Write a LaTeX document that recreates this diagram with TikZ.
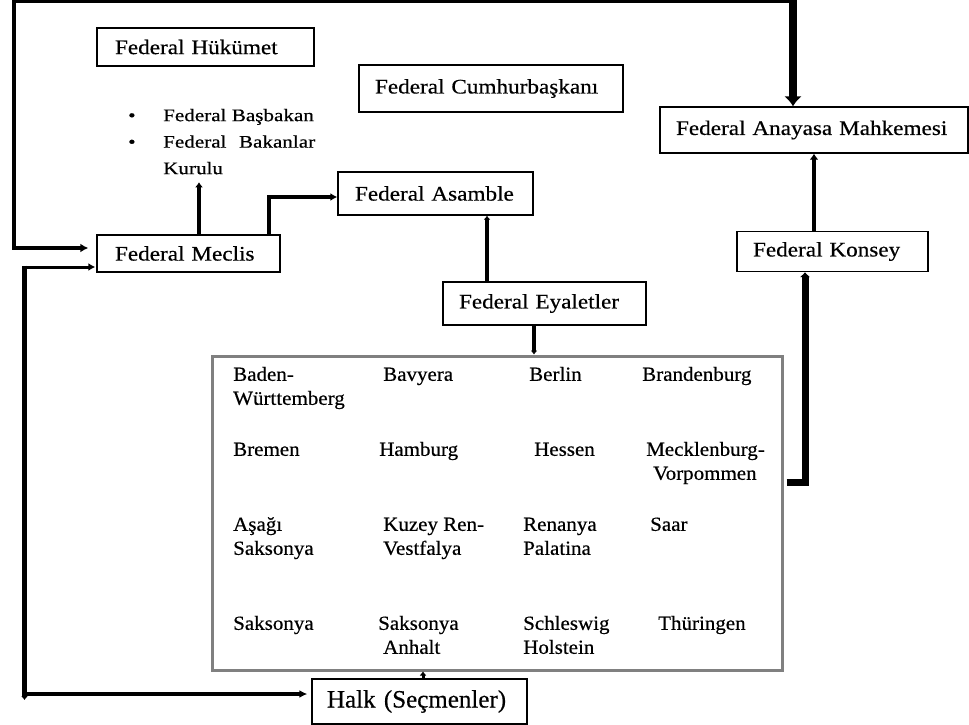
\documentclass[tikz,border=0pt]{standalone}
\usepackage{fontspec}
\setmainfont{Liberation Serif}
\newfontfamily\boxfont[FakeStretch=1.12,FakeBold=0.5]{Liberation Serif}
\newfontfamily\listfont[FakeStretch=1.2,FakeBold=0.5]{Liberation Serif}
\newfontfamily\statefont[FakeStretch=1.05,FakeBold=0.5]{Liberation Serif}
\newfontfamily\halkfont[FakeBold=0.5]{Liberation Serif}
\usetikzlibrary{arrows.meta}
\begin{document}
\begin{tikzpicture}[x=1pt,y=-1pt,
  box/.style={draw=black, line width=1.4pt, font=\boxfont\fontsize{20.7}{24}\selectfont, align=left, inner ysep=0pt},
  statelbl/.style={font=\statefont\fontsize{20}{24}\selectfont, align=left, inner sep=0pt, anchor=north west},
  tipS/.style={-{Latex[length=4pt,width=7pt]}}
]
\useasboundingbox (0,0) rectangle (969,725);
\fill[white] (0,0) rectangle (969,725);

% boxes
\node[box, minimum height=38pt, text width=181pt, inner xsep=18pt] (huk) at (205.5,47) {Federal Hükümet};
\node[box, minimum height=47pt, text width=232pt, inner xsep=16pt] (cumh) at (491,88.5) {Federal Cumhurbaşkanı};
\node[box, minimum height=46pt, text width=276pt, inner xsep=16pt] (fam) at (814,130) {Federal Anayasa Mahkemesi};
\node[box, minimum height=43pt, text width=161pt, inner xsep=17pt] (asam) at (435.5,193.5) {Federal Asamble};
\node[box, minimum height=37pt, text width=147pt, inner xsep=18pt] (mec) at (188.5,253.5) {Federal Meclis};
\node[box, minimum height=40pt, text width=159pt, inner xsep=16pt] (kon) at (832.5,251.5) {Federal Konsey};
\node[box, minimum height=43pt, text width=171pt, inner xsep=16pt] (eya) at (544.5,303.5) {Federal Eyaletler};
\node[box, minimum height=45pt, text width=185pt, inner xsep=15pt, font=\halkfont\fontsize{25}{30}\selectfont] (halk) at (419.5,701.5) {Halk (Seçmenler)};

% list of government
\node[anchor=north west, inner sep=0pt, align=left, font=\listfont\fontsize{17.6}{26.5}\selectfont] (list) at (128,102.4)
 {\strut\makebox[35pt][l]{•}Federal Başbakan\\
  \makebox[35pt][l]{•}\makebox[152pt][l]{Federal\hfill Bakanlar}\\
  \hspace*{35pt}Kurulu\strut};

% states frame
\node[draw=black!50, line width=3pt, minimum width=570pt, minimum height=314pt, inner sep=0pt] (states) at (497,513) {};

\node[statelbl] (s1) at (233,363.8) {\strut Baden-\\Württemberg};
\node[statelbl] (s2) at (383,363.8) {\strut Bavyera};
\node[statelbl] (s3) at (529,363.8) {\strut Berlin};
\node[statelbl] (s4) at (642,363.8) {\strut Brandenburg};
\node[statelbl] (s5) at (233,438.8) {\strut Bremen};
\node[statelbl] (s6) at (379,438.8) {\strut Hamburg};
\node[statelbl] (s7) at (534,438.8) {\strut Hessen};
\node[statelbl] (s8) at (646,438.8) {\strut Mecklenburg-\\\hspace*{7pt}Vorpommen};
\node[statelbl] (s9) at (233,513.8) {\strut Aşağı\\Saksonya};
\node[statelbl] (s10) at (383,513.8) {\strut Kuzey Ren-\\Vestfalya};
\node[statelbl] (s11) at (523,513.8) {\strut Renanya\\Palatina};
\node[statelbl] (s12) at (650,513.8) {\strut Saar};
\node[statelbl] (s13) at (233,612.8) {\strut Saksonya};
\node[statelbl] (s14) at (378,612.8) {\strut Saksonya\\\hspace*{5pt}Anhalt};
\node[statelbl] (s15) at (523,612.8) {\strut Schleswig\\Holstein};
\node[statelbl] (s16) at (658,612.8) {\strut Thüringen};

% helper coordinates
\coordinate (tl) at (14,1.75);
\coordinate (tr) at (793,1.75);
\coordinate (bl) at (22,267);
\coordinate (lv1) at (24.5,265.5);
\coordinate (lv2) at (24.5,700);
\coordinate (hb) at (24.5,694);
\coordinate (c199) at (199,0);
\coordinate (c269) at (269,0);
\coordinate (c487) at (487,0);
\coordinate (c534) at (534,0);
\coordinate (c423) at (423,0);
\coordinate (c806) at (805,482);
\coordinate (c814) at (814,0);

% Meclis <-> Anayasa Mahkemesi
\draw[line width=3.5pt, line cap=rect] (tl) -- (tr);
\draw[line width=8pt, -{Latex[length=10pt,width=18pt]}] ([yshift=2pt]tr) -- (tr |- fam.north);
\draw[line width=4pt, -{Latex[length=8pt,width=9pt]}, shorten >=8pt] ([yshift=2pt]tl) |- ([yshift=5.5pt]mec.west);

% Halk <-> Meclis
\draw[line width=3pt, -{Latex[length=7pt,width=8pt]}, shorten >=1pt] (bl) -- ([yshift=-13.5pt]mec.west);
\draw[line width=5.5pt, tipS] (lv1) -- (lv2);
\draw[line width=3.5pt, -{Latex[length=8pt,width=8pt]}, shorten >=4pt] (hb) -- ([yshift=7.5pt]halk.west);

% Meclis -> government, Asamble
\draw[line width=4pt, -{Latex[length=5pt,width=8pt]}] (mec.north -| c199) -- (list.south -| c199);
\draw[line width=4pt, -{Latex[length=7pt,width=8pt]}] (mec.north -| c269) |- ([yshift=-3.5pt]asam.west);

% Asamble - Eyaletler - states
\draw[line width=4.5pt, {Latex[length=4pt,width=7pt]}-] (asam.south -| c487) -- (eya.north -| c487);
\draw[line width=4pt, tipS] (eya.south -| c534) -- (states.north -| c534);

% Halk -> states
\draw[line width=3pt, tipS] (halk.north -| c423) -- (states.south -| c423);

% states -> Konsey -> Anayasa Mahkemesi
\draw[line width=7pt, -{Latex[length=5pt,width=11pt]}] ([xshift=3pt]states.east |- c806) -| (kon.south -| c806);
\draw[line width=4pt, -{Latex[length=6pt,width=9pt]}] (kon.north -| c814) -- (fam.south -| c814);
\end{tikzpicture}
\end{document}
